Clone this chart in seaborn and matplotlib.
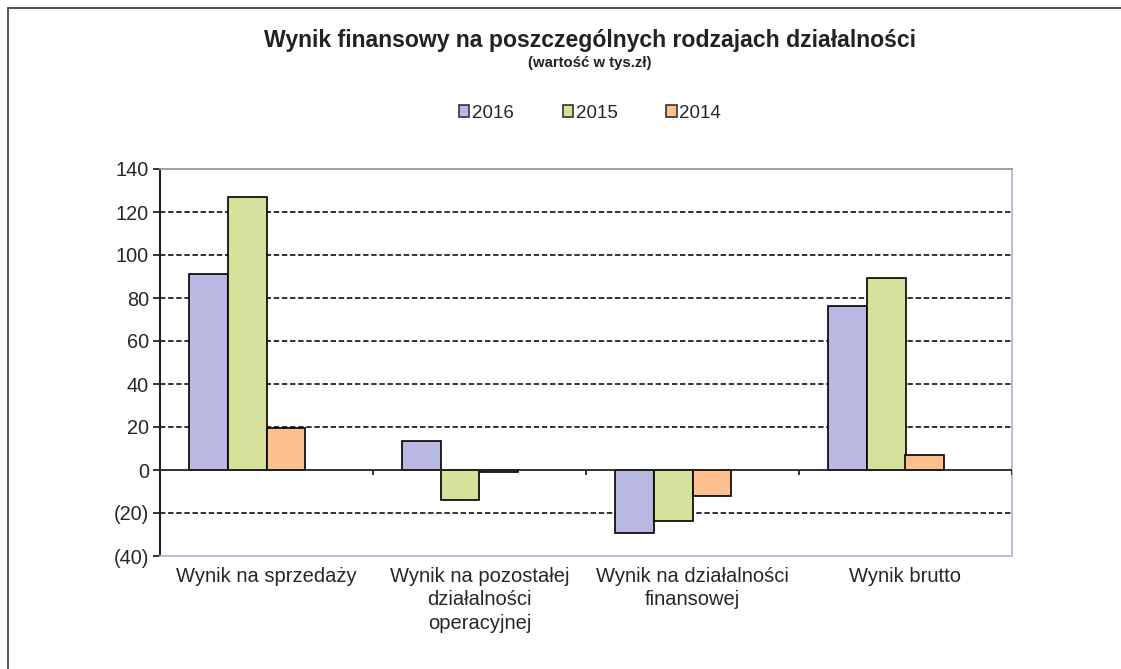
import numpy as np
import pandas as pd
import seaborn as sns
import matplotlib.pyplot as plt
from matplotlib.patches import Rectangle, Patch
from matplotlib.ticker import FuncFormatter

kategorie = ["Wynik na sprzedaży",
             "Wynik na pozostałej\ndziałalności\noperacyjnej",
             "Wynik na działalności\nfinansowej",
             "Wynik brutto"]
lata = ["2016", "2015", "2014"]
w_2016 = [91.0, 13.6, -29.5, 76.4]
w_2015 = [127.0, -14.0, -23.6, 89.2]
w_2014 = [19.7, -0.8, -12.1, 6.8]
kolory = ["#B8B8E2", "#D6E29C", "#FBC08E"]

# pusta czwarta seria - jak w Excelu grupy sa przesuniete w lewo
df = pd.DataFrame({
    'kat': kategorie * 4,
    'rok': [r for r in lata + ['_pad'] for _ in kategorie],
    'val': w_2016 + w_2015 + w_2014 + [np.nan] * 4,
})

sns.set_style("white")
plt.rcParams['font.family'] = ['Liberation Sans', 'DejaVu Sans']

fig = plt.figure(figsize=(11.21, 6.69), dpi=100)
ax = fig.add_axes([160 / 1121, 1 - 556 / 669, 852 / 1121, 387 / 669])

sns.barplot(data=df, x='kat', y='val', hue='rok', hue_order=lata + ['_pad'],
            palette=kolory + ['white'], order=kategorie, ax=ax, width=0.73,
            edgecolor='black', linewidth=1.2, errorbar=None, legend=False,
            saturation=1)

ax.set_ylim(-40, 140)
ax.set_xlim(-0.5, 3.5)
ax.set_yticks(np.arange(-40, 141, 20))
ax.yaxis.set_major_formatter(FuncFormatter(lambda v, p: f"({abs(int(v))})" if v < 0 else f"{int(v)}"))
for y in range(-20, 140, 20):
    if y != 0:
        ax.axhline(y, color='#222222', lw=1.3, ls=(0, (3, 1.5)), zorder=0)
ax.axhline(0, color='#222222', lw=1.3, zorder=3)
ax.vlines(np.arange(-0.5, 4.0, 1.0), -2.3, 0, color='#222222', lw=1.3, zorder=3)

ax.set_xlabel("")
ax.set_ylabel("")
ax.tick_params(axis='y', direction='out', length=5, width=1.3, color='#222222',
               labelsize=14.3, pad=3, left=True)
ax.tick_params(axis='x', length=0, labelsize=14.5, pad=8)
ax.spines['left'].set_color('#222222')
ax.spines['left'].set_linewidth(1.5)
ax.spines['top'].set_color('#999999')
ax.spines['top'].set_linewidth(1.3)
for s in ['right', 'bottom']:
    ax.spines[s].set_color('#B4B6CC')
    ax.spines[s].set_linewidth(1.3)
for lab in ax.get_xticklabels():
    lab.set_linespacing(1.28)

fig.text(590 / 1121, 1 - 41 / 669, "Wynik finansowy na poszczególnych rodzajach działalności",
         ha='center', va='center', fontsize=16.6, fontweight='bold', color='#222222')
fig.text(590 / 1121, 1 - 63 / 669, "(wartość w tys.zł)", ha='center', va='center',
         fontsize=10.7, fontweight='bold', color='#222222')

uchwyty = [Patch(facecolor=c, edgecolor='#333333', linewidth=1.2) for c in kolory]
fig.legend(uchwyty, lata, loc='center', bbox_to_anchor=(590 / 1121, 1 - 113 / 669),
           ncol=3, frameon=False, fontsize=13.5, handlelength=0.55, handleheight=0.55,
           handletextpad=0.15, columnspacing=2.6)

fig.add_artist(Rectangle((8 / 1121, -0.1), 1.2, 1 - 8 / 669 + 0.1, transform=fig.transFigure,
                         fill=False, edgecolor='#444444', linewidth=1.3))

fig.savefig("out.png", dpi=100)
